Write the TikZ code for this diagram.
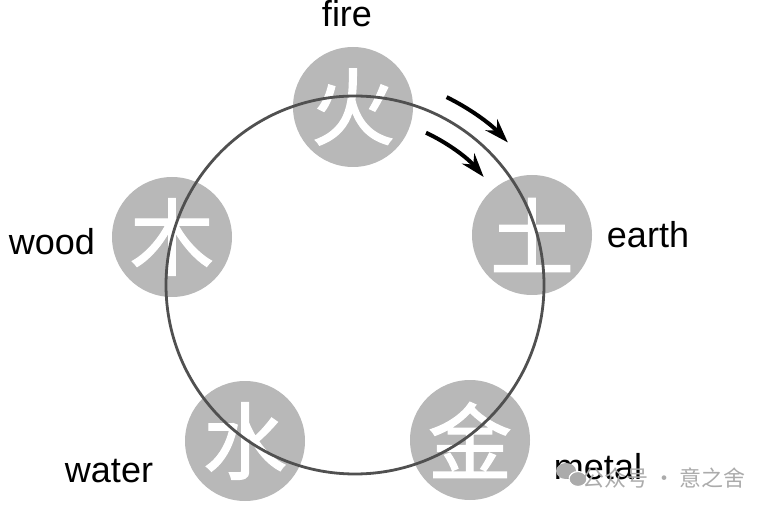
\documentclass[tikz,border=0pt]{standalone}
\usepackage{fontspec}
\setmainfont{Liberation Sans}
\newfontfamily\cjk[AutoFakeBold=1.5]{Noto Sans CJK SC}
\usetikzlibrary{arrows.meta}
\definecolor{gris}{HTML}{505050}
\definecolor{grisclaro}{HTML}{B8B8B8}
\definecolor{marca}{HTML}{ABABAB}

\begin{document}
\begin{tikzpicture}[x=0.5pt, y=0.5pt,
    disco/.style={circle, fill=grisclaro, minimum size=60pt, inner sep=0pt, text=white,
                  font=\cjk\bfseries\fontsize{42}{42}\selectfont},
    etiqueta/.style={anchor=base, font=\fontsize{18}{20}\selectfont},
    flecha/.style={-{Stealth[length=12pt, width=8pt]}, line width=2pt}]
        \useasboundingbox (0,0) rectangle (765,509);
        \node[disco] (fire) at (353,402) {火};
        \node[disco] (earth) at (532,274) {土};
        \node[disco] (wood) at (172,272) {木};
        \node[disco] (water) at (245,68) {水};
        \node[disco] (metal) at (470,69) {金};
        \coordinate (centro) at (355,224);
        \draw[gris, line width=1.4pt] (centro) circle (189);
        \node[etiqueta] (lfire) at (347,482) {fire};
        \node[etiqueta] (learth) at (648,261) {earth};
        \node[etiqueta] (lwood) at (52,254) {wood};
        \node[etiqueta] (lwater) at (109,27) {water};
        \node[etiqueta] (lmetal) at (598,30) {metal};
        \draw[flecha] ([shift={(64:209)}]centro) arc[start angle=64, end angle=43, radius=209];
        \draw[flecha] ([shift={(65:168)}]centro) arc[start angle=65, end angle=40, radius=168];
        \fill[marca] (566,38) ellipse (10 and 8);
        \filldraw[marca, draw=white, line width=0.6pt] (578,30) ellipse (9 and 7.5);
        \node[marca, font=\cjk\fontsize{11}{11}\selectfont] (sello) at (664,31) {公众号 · 意之舍};
      \end{tikzpicture}
\end{document}
